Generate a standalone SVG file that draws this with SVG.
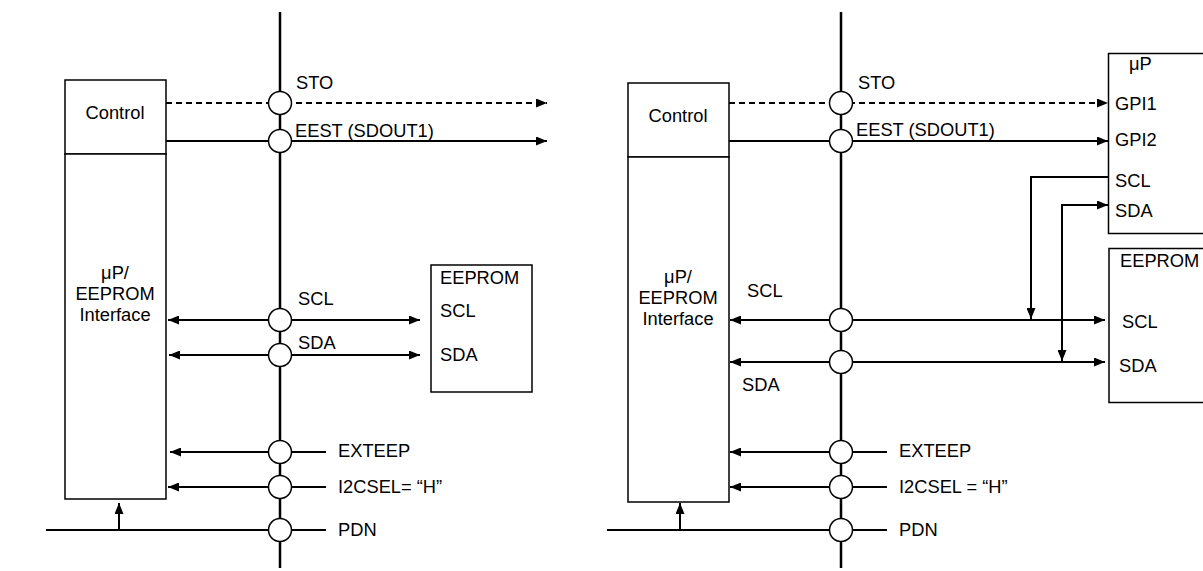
<svg xmlns="http://www.w3.org/2000/svg" width="1203" height="571" viewBox="0 0 1203 571">
<defs>
<marker id="ah" viewBox="0 0 11 9" refX="11" refY="4.5" markerWidth="11" markerHeight="9" markerUnits="userSpaceOnUse" orient="auto">
<path d="M0,0 L11,4.5 L0,9 Z" fill="#000"/>
</marker>
<marker id="as" viewBox="0 0 11 9" refX="0" refY="4.5" markerWidth="11" markerHeight="9" markerUnits="userSpaceOnUse" orient="auto">
<path d="M11,0 L0,4.5 L11,9 Z" fill="#000"/>
</marker>
</defs>
<style>
text{font-family:"Liberation Sans",Arial,sans-serif;font-size:18.3px;fill:#000}
.box{fill:#fff;stroke:#000;stroke-width:1.5}
.bus{stroke:#000;stroke-width:2.5;fill:none}
.ln{stroke:#000;stroke-width:2;fill:none}
.dash{stroke-dasharray:6 4}
.c{fill:#fff;stroke:#000;stroke-width:1.5}
.m{text-anchor:middle}
</style>
<rect width="1203" height="571" fill="#fff"/>

<!-- LEFT DIAGRAM -->
<g id="left-connectors">
<line class="bus" x1="280" y1="12" x2="280" y2="568"/>
<line class="ln dash" x1="166" y1="103" x2="547" y2="103" marker-end="url(#ah)"/>
<line class="ln" x1="166" y1="141" x2="547" y2="141" marker-end="url(#ah)"/>
<line class="ln" x1="168" y1="320" x2="420" y2="320" marker-start="url(#as)" marker-end="url(#ah)"/>
<line class="ln" x1="169" y1="355" x2="420" y2="355" marker-start="url(#as)" marker-end="url(#ah)"/>
<line class="ln" x1="326" y1="452" x2="170" y2="452" marker-end="url(#ah)"/>
<line class="ln" x1="326" y1="487" x2="168" y2="487" marker-end="url(#ah)"/>
<line class="ln" x1="46" y1="530" x2="326" y2="530"/>
<line class="ln" x1="119" y1="530" x2="119" y2="503" marker-end="url(#ah)"/>
</g>
<g id="left-circles">
<circle class="c" cx="280" cy="103" r="11.5"/>
<circle class="c" cx="280" cy="141" r="11.5"/>
<circle class="c" cx="280" cy="320" r="11.5"/>
<circle class="c" cx="280" cy="355" r="11.5"/>
<circle class="c" cx="280" cy="452" r="11.5"/>
<circle class="c" cx="280" cy="487" r="11.5"/>
<circle class="c" cx="280" cy="530" r="11.5"/>
</g>
<g id="left-control">
<rect class="box" x="65" y="80" width="101" height="74"/>
<text class="m" x="115" y="119">Control</text>
</g>
<g id="left-interface">
<rect class="box" x="65" y="154" width="101" height="345"/>
<text class="m" x="115" y="279">μP/</text>
<text class="m" x="115" y="300">EEPROM</text>
<text class="m" x="115" y="321">Interface</text>
</g>
<g id="left-eeprom">
<rect class="box" x="431" y="265" width="101" height="127"/>
<text x="440" y="284">EEPROM</text>
<text x="440" y="317">SCL</text>
<text x="440" y="361">SDA</text>
</g>
<g id="left-labels">
<text x="296" y="89">STO</text>
<text x="295" y="137">EEST (SDOUT1)</text>
<text x="298" y="305">SCL</text>
<text x="298" y="349">SDA</text>
<text x="338" y="457">EXTEEP</text>
<text x="338" y="493">I2CSEL= “H”</text>
<text x="338" y="536">PDN</text>
</g>

<!-- RIGHT DIAGRAM -->
<g id="right-connectors">
<line class="bus" x1="841" y1="12" x2="841" y2="568"/>
<line class="ln dash" x1="729" y1="103" x2="1108" y2="103" marker-end="url(#ah)"/>
<line class="ln" x1="729" y1="141" x2="1108" y2="141" marker-end="url(#ah)"/>
<line class="ln" x1="730" y1="320" x2="1105" y2="320" marker-start="url(#as)" marker-end="url(#ah)"/>
<line class="ln" x1="730" y1="362" x2="1105" y2="362" marker-start="url(#as)" marker-end="url(#ah)"/>
<polyline class="ln" points="1108,177 1031,177 1031,319" marker-end="url(#ah)"/>
<polyline class="ln" points="1062,361 1062,205 1108,205" marker-start="url(#as)" marker-end="url(#ah)"/>
<line class="ln" x1="887" y1="452" x2="730" y2="452" marker-end="url(#ah)"/>
<line class="ln" x1="887" y1="487" x2="730" y2="487" marker-end="url(#ah)"/>
<line class="ln" x1="607" y1="530" x2="887" y2="530"/>
<line class="ln" x1="680" y1="530" x2="680" y2="503" marker-end="url(#ah)"/>
</g>
<g id="right-circles">
<circle class="c" cx="841" cy="103" r="11.5"/>
<circle class="c" cx="841" cy="141" r="11.5"/>
<circle class="c" cx="841" cy="320" r="11.5"/>
<circle class="c" cx="841" cy="362" r="11.5"/>
<circle class="c" cx="841" cy="452" r="11.5"/>
<circle class="c" cx="841" cy="487" r="11.5"/>
<circle class="c" cx="841" cy="530" r="11.5"/>
</g>
<g id="right-control">
<rect class="box" x="628" y="83" width="101" height="74"/>
<text class="m" x="678" y="122">Control</text>
</g>
<g id="right-interface">
<rect class="box" x="628" y="157" width="101" height="345"/>
<text class="m" x="678" y="283">μP/</text>
<text class="m" x="678" y="304">EEPROM</text>
<text class="m" x="678" y="325">Interface</text>
</g>
<g id="right-up">
<rect class="box" x="1108.5" y="53.5" width="110" height="180"/>
<text x="1129" y="70">μP</text>
<text x="1115" y="110">GPI1</text>
<text x="1115" y="146">GPI2</text>
<text x="1115" y="187">SCL</text>
<text x="1115" y="217">SDA</text>
</g>
<g id="right-eeprom">
<rect class="box" x="1109" y="248.5" width="110" height="154"/>
<text x="1120" y="267">EEPROM</text>
<text x="1122" y="328">SCL</text>
<text x="1119" y="372">SDA</text>
</g>
<g id="right-labels">
<text x="858" y="89">STO</text>
<text x="856" y="136">EEST (SDOUT1)</text>
<text x="747" y="297">SCL</text>
<text x="742" y="391">SDA</text>
<text x="899" y="457">EXTEEP</text>
<text x="899" y="493">I2CSEL = “H”</text>
<text x="899" y="536">PDN</text>
</g>
</svg>
